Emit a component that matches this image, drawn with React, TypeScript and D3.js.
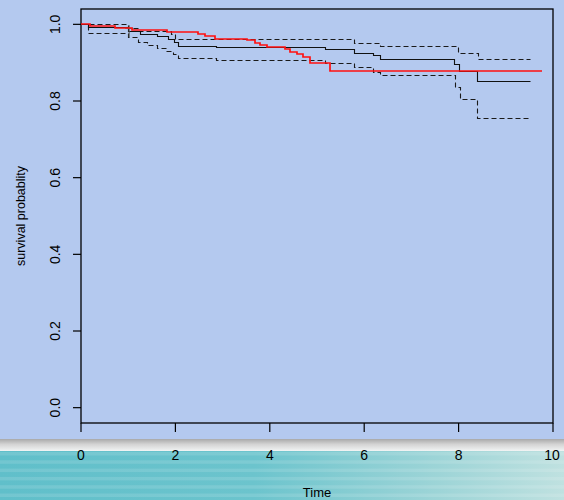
import { useMemo } from "react";
import { scaleLinear, line, curveStepAfter } from "d3";

// Kaplan-Meier estimate (black), its confidence band (dashed) and a second curve (red)
const kmTimes = [0, 0.15, 1.0, 1.25, 1.6, 1.85, 1.98, 2.05, 2.87, 5.17, 5.78, 6.18, 6.33, 7.9, 8.01, 8.38];
const kmSurv = [1.0, 0.993, 0.982, 0.976, 0.97, 0.963, 0.955, 0.944, 0.94, 0.935, 0.926, 0.919, 0.91, 0.896, 0.877, 0.851];
const kmEnd = 9.52;

const upperTimes = [0, 1.0, 1.2, 1.9, 2.0, 5.78, 6.33, 7.99, 8.41];
const upperSurv = [1.0, 0.99, 0.982, 0.975, 0.962, 0.951, 0.943, 0.925, 0.91];

const lowerTimes = [0, 0.15, 1.0, 1.2, 1.4, 1.6, 1.8, 1.95, 2.05, 2.87, 5.17, 5.78, 6.18, 6.33, 7.92, 8.03, 8.4];
const lowerSurv = [1.0, 0.977, 0.967, 0.955, 0.945, 0.938, 0.93, 0.922, 0.912, 0.906, 0.899, 0.89, 0.875, 0.867, 0.836, 0.804, 0.755];

const redTimes = [0, 0.19, 0.72, 1.08, 1.82, 2.48, 2.63, 2.84, 3.52, 3.69, 3.79, 3.94, 4.32, 4.43, 4.58, 4.7, 4.85, 5.28];
const redSurv = [1.0, 0.996, 0.99, 0.985, 0.981, 0.976, 0.97, 0.963, 0.958, 0.952, 0.947, 0.941, 0.935, 0.928, 0.922, 0.916, 0.899, 0.877];
const redEnd = 9.76;

const censorTimes = [1.02];

const xTicks = [0, 2, 4, 6, 8, 10];
const yTicks = [0, 0.2, 0.4, 0.6, 0.8, 1.0];
const yTickLabels = ["0.0", "0.2", "0.4", "0.6", "0.8", "1.0"];

const W = 564;
const H = 500;
const font = "'Liberation Sans', Arial, Helvetica, sans-serif";

function stepPoints(times: number[], surv: number[], end: number): [number, number][] {
  const pts: [number, number][] = times.map((t, i) => [t, surv[i]]);
  pts.push([end, surv[surv.length - 1]]);
  return pts;
}

function survAt(t: number) {
  let v = kmSurv[0];
  kmTimes.forEach((tt, i) => {
    if (tt <= t) v = kmSurv[i];
  });
  return v;
}

export default function App() {
  const box = { left: 81, right: 553, top: 9, bottom: 423 };

  const x = useMemo(() => scaleLinear().domain([0, 10]).range([box.left, box.right]), []);
  const y = useMemo(() => scaleLinear().domain([-0.04, 1.04]).range([box.bottom, box.top]), []);

  // snap to the pixel grid so 1px lines stay crisp
  const path = line<[number, number]>()
    .x((d) => Math.round(x(d[0])) + 0.5)
    .y((d) => Math.round(y(d[1])) + 0.5)
    .curve(curveStepAfter);

  // red curve is drawn 2px wide, centred on a pixel edge
  const redPath = line<[number, number]>()
    .x((d) => Math.round(x(d[0])))
    .y((d) => Math.round(y(d[1])))
    .curve(curveStepAfter);

  const stripes = [];
  for (let yy = 452; yy < H; yy += 8.3) stripes.push(yy);

  return (
    <svg
      width={W}
      height={H}
      style={{ position: "absolute", left: 0, top: 0, display: "block" }}
      fontFamily={font}
    >
      <defs>
        <linearGradient id="sea" x1="0" x2="1" y1="0" y2="0">
          <stop offset="0" stopColor="#60bfca" />
          <stop offset="0.45" stopColor="#6cc4cd" />
          <stop offset="0.75" stopColor="#99d3d6" />
          <stop offset="1" stopColor="#bfe1e0" />
        </linearGradient>
        <linearGradient id="rim" x1="0" x2="0" y1="0" y2="1">
          <stop offset="0" stopColor="#a9a9a9" />
          <stop offset="0.45" stopColor="#d4d4d4" />
          <stop offset="1" stopColor="#f2f4f4" />
        </linearGradient>
      </defs>

      <rect x={0} y={0} width={W} height={H} fill="#b4c9ef" />
      <rect x={0} y={439} width={W} height={12} fill="url(#rim)" />
      <rect x={0} y={451} width={W} height={H - 451} fill="url(#sea)" />
      {stripes.map((s) => (
        <rect key={s} x={0} y={s} width={W} height={3.5} fill="#ffffff" opacity={0.12} />
      ))}

      {/* plot box */}
      <rect
        x={box.left}
        y={box.top}
        width={box.right - box.left}
        height={box.bottom - box.top}
        fill="none"
        stroke="#000"
        strokeWidth={1.3}
      />

      {/* y axis */}
      {yTicks.map((v, i) => (
        <g key={v}>
          <line x1={box.left - 8} x2={box.left} y1={y(v)} y2={y(v)} stroke="#000" strokeWidth={1.2} />
          <text
            transform={`translate(55,${y(v)}) rotate(-90)`}
            textAnchor="middle"
            dy="0.36em"
            fontSize={14}
            fill="#000"
          >
            {yTickLabels[i]}
          </text>
        </g>
      ))}
      <text
        transform={`translate(20,${(box.top + box.bottom) / 2}) rotate(-90)`}
        textAnchor="middle"
        dy="0.36em"
        fontSize={12.5}
        fill="#000"
      >
        survival probablity
      </text>

      {/* x axis */}
      {xTicks.map((t) => (
        <g key={t}>
          <line x1={x(t)} x2={x(t)} y1={box.bottom} y2={box.bottom + 9} stroke="#000" strokeWidth={1.2} />
          <text x={t === 10 ? x(t) - 1 : x(t)} y={460} textAnchor="middle" fontSize={14} fill="#000">
            {t}
          </text>
        </g>
      ))}
      <text x={(box.left + box.right) / 2} y={497} textAnchor="middle" fontSize={13} fill="#000">
        Time
      </text>

      {/* curves */}
      <path
        d={path(stepPoints(upperTimes, upperSurv, kmEnd)) ?? ""}
        fill="none"
        stroke="#1a1a1a"
        strokeWidth={1.1}
        strokeDasharray="5,3"
      />
      <path
        d={path(stepPoints(lowerTimes, lowerSurv, kmEnd)) ?? ""}
        fill="none"
        stroke="#1a1a1a"
        strokeWidth={1.1}
        strokeDasharray="5,3"
      />
      <path d={path(stepPoints(kmTimes, kmSurv, kmEnd)) ?? ""} fill="none" stroke="#111" strokeWidth={1.1} />
      {censorTimes.map((t) => (
        <g key={t} stroke="#555" strokeWidth={1}>
          <line x1={x(t)} x2={x(t)} y1={y(survAt(t)) - 6} y2={y(survAt(t)) + 6} />
          <line x1={x(t) - 4} x2={x(t) + 4} y1={y(survAt(t)) - 3} y2={y(survAt(t)) - 3} />
        </g>
      ))}
      <path
        d={redPath(stepPoints(redTimes, redSurv, redEnd)) ?? ""}
        fill="none"
        stroke="#ff1010"
        strokeWidth={1.7}
      />
    </svg>
  );
}
